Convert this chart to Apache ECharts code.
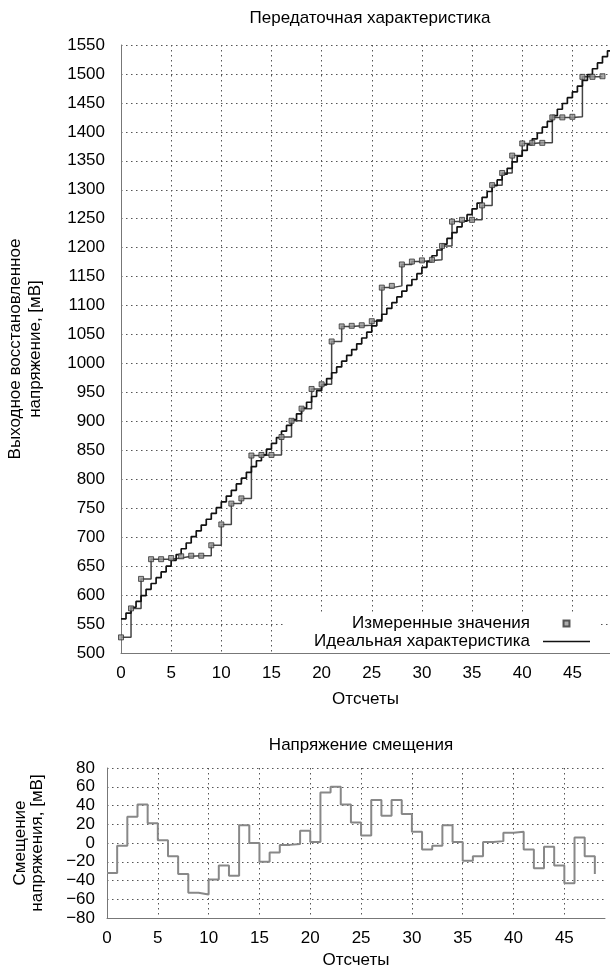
<!DOCTYPE html>
<html><head><meta charset="utf-8">
<script src="https://cdn.jsdelivr.net/npm/echarts@6/dist/echarts.min.js"></script>
<style>html,body{margin:0;padding:0;background:#fff}#c{width:610px;height:973px}</style>
</head><body><div id="c"></div>
<script>
// sample indices (x axis, "Отсчеты")
const samples = [0,1,2,3,4,5,6,7,8,9,10,11,12,13,14,15,16,17,18,19,20,21,22,23,24,25,26,27,28,29,30,31,32,33,34,35,36,37,38,39,40,41,42,43,44,45,46,47,48];
// measured output voltage, mV
const measured = [527,577,628,662,662,664,667,668,668,686,
  722,758,767,841,842,842,873,901,922,956,
  964,1038,1064,1065,1066,1073,1131,1134,1171,1176,
  1178,1179,1203,1245,1248,1248,1273,1308,1329,1359,
  1380,1381,1381,1425,1425,1426,1495,1495,1496];
// ideal characteristic: half-sample staircase, x = 0, 0.5, 1, ... 49
const idealVals = [559,569,579,589,599,610,620,630,640,650,
  660,670,680,690,701,711,721,731,741,751,
  761,771,781,792,802,812,822,832,842,852,
  862,872,883,893,903,913,923,933,943,953,
  963,974,984,994,1004,1014,1024,1034,1044,1054,
  1065,1075,1085,1095,1105,1115,1125,1135,1145,1155,
  1166,1176,1186,1196,1206,1216,1226,1236,1246,1257,
  1267,1277,1287,1297,1307,1317,1327,1337,1348,1358,
  1368,1378,1388,1398,1408,1418,1428,1439,1449,1459,
  1469,1479,1489,1499,1509,1519,1530,1540,1550];
const idealStep = 0.5;
// offset voltage, mV
const offset = [-32,-3,28,41,21,3,-14,-33,-53,-55,
  -39,-24,-35,19,0,-20,-10,-2,-1,13,
  1,54,60,41,22,8,46,29,46,31,
  12,-7,-3,19,1,-19,-14,1,2,11,
  12,-7,-27,-4,-24,-43,6,-14,-33];

const FONT = '"Liberation Sans", Arial, sans-serif';
const FS = 17;
const gridLine = {show:true, lineStyle:{color:'#555', type:[1.5,3.5], width:1}};
const gridLineX = {show:true, showMaxLine:false, lineStyle:{color:'#555', type:[1.5,3.5], width:1}};
const axLine = {show:true, onZero:false, lineStyle:{color:'#777', width:1}};
const lbl = {color:'#000', fontSize:FS, fontFamily:FONT};
const plain = v => String(v).replace('-', '\u2212');

const chart = echarts.init(document.getElementById('c'), null, {renderer:'canvas'});
chart.setOption({
  animation:false,
  backgroundColor:'#fff',
  textStyle:{fontFamily:FONT, color:'#000'},
  title:[
    {text:'Передаточная характеристика', left:365, top:5, textAlign:'center',
     textStyle:{fontSize:FS, fontWeight:'normal', color:'#000', fontFamily:FONT}},
    {text:'Напряжение смещения', left:356, top:732, textAlign:'center',
     textStyle:{fontSize:FS, fontWeight:'normal', color:'#000', fontFamily:FONT}}
  ],
  grid:[
    {left:121, right:0, top:45, height:608, outerBoundsMode:'none', containLabel:false},
    {left:107, right:5, top:768, height:150, outerBoundsMode:'none', containLabel:false}
  ],
  legend:{
    orient:'vertical', right:10, top:613, align:'right',
    itemWidth:47, itemHeight:6, itemGap:1,
    backgroundColor:'#fff', padding:[2,10,2,30],
    selectedMode:false,
    textStyle:{fontSize:FS, color:'#000', fontFamily:FONT, padding:[0,8,0,0]},
    data:[{name:'Измеренные значения', icon:'path://M0,0H10V10H0Z'},
          {name:'Идеальная характеристика', icon:'path://M0,0H60V2H0Z',
           itemStyle:{color:'#111', borderWidth:0}}]
  },
  xAxis:[
    {gridIndex:0, type:'value', min:0, max:48.75, interval:5,
     axisLine:axLine, axisTick:{show:false},
     axisLabel:Object.assign({margin:12, showMaxLabel:false}, lbl),
     splitLine:gridLineX,
     name:'Отсчеты', nameLocation:'middle', nameGap:38, nameTextStyle:lbl},
    {gridIndex:1, type:'value', min:0, max:49, interval:5,
     axisLine:axLine, axisTick:{show:false},
     axisLabel:Object.assign({margin:12, showMaxLabel:false}, lbl),
     splitLine:gridLineX,
     name:'Отсчеты', nameLocation:'middle', nameGap:34, nameTextStyle:lbl}
  ],
  yAxis:[
    {gridIndex:0, type:'value', min:500, max:1550, interval:50,
     axisLine:axLine, axisTick:{show:false},
     axisLabel:Object.assign({margin:16, formatter:plain}, lbl),
     splitLine:gridLine,
     name:'Выходное восстановленное\nнапряжение, [мВ]', nameLocation:'middle', nameRotate:90, nameGap:76,
     nameTextStyle:Object.assign({lineHeight:20}, lbl)},
    {gridIndex:1, type:'value', min:-80, max:80, interval:20,
     axisLine:axLine, axisTick:{show:false},
     axisLabel:Object.assign({margin:12, formatter:plain}, lbl),
     splitLine:gridLine,
     name:'Смещение\nнапряжения, [мВ]', nameLocation:'middle', nameRotate:90, nameGap:61,
     nameTextStyle:Object.assign({lineHeight:17}, lbl)}
  ],
  series:[
    {name:'measured-steps', type:'line', xAxisIndex:0, yAxisIndex:0, step:'end', symbol:'none',
     lineStyle:{color:'#444', width:1.5}, z:2,
     data:samples.map((x,i)=>[x, measured[i]])},
    {name:'Идеальная характеристика', type:'line', xAxisIndex:0, yAxisIndex:0, step:'end', symbol:'none',
     color:'#111', lineStyle:{color:'#111', width:1.7}, z:3,
     data:idealVals.map((v,k)=>[k*idealStep, v])},
    {name:'Измеренные значения', type:'scatter', xAxisIndex:0, yAxisIndex:0, symbol:'rect', symbolSize:5,
     itemStyle:{color:'#999', borderColor:'#333', borderWidth:1}, z:4,
     data:samples.map((x,i)=>[x, measured[i]])},
    {name:'offset', type:'line', xAxisIndex:1, yAxisIndex:1, step:'end', symbol:'none',
     lineStyle:{color:'#888', width:2},
     data:samples.map((x,i)=>[x, offset[i]])}
  ]
});
</script></body></html>
